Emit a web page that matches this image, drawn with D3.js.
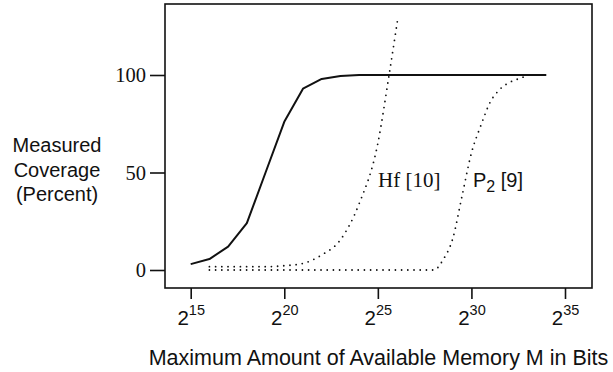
<!DOCTYPE html>
<html>
<head>
<meta charset="utf-8">
<script src="https://cdn.jsdelivr.net/npm/d3@7"></script>
<style>
	body { margin: 0; background: #fff; }
	svg { display: block; }
</style>
</head>
<body>
<div id="chart"></div>
<script>
// x values are exponents of 2 (memory M = 2^x bits), y values are percent coverage
const xTicks = [15, 20, 25, 30, 35];
const yTicks = [0, 50, 100];

const measuredX = [15, 16, 17, 18, 19, 20, 21, 22, 23, 24, 26, 28, 30, 32, 34];
const measuredY = [3, 5.6, 12, 24, 50, 76, 93, 98, 99.5, 100, 100, 100, 100, 100, 100];

const hfX = [16, 17, 18, 19, 20, 21, 22, 23, 24, 25, 25.6, 26.05];
const hfY = [1.7, 1.7, 1.7, 1.7, 2.2, 3.4, 7.7, 15.5, 34, 65, 100, 128];

const p2X = [16, 20, 24, 28, 28.5, 29, 29.5, 30, 30.5, 31, 31.5, 32, 32.5, 33];
const p2Y = [0, 0, 0, 0, 5.5, 16, 38, 60, 74, 86, 92.5, 96, 98, 99.7];

const width = 613;
const height = 372;
const frame = {left: 165, top: 4, right: 592, bottom: 288};

const svg = d3.select('#chart').append('svg')
	.attr('width', width)
	.attr('height', height);

const x = d3.scaleLinear().domain([15, 35]).range([190.7, 565]);
const y = d3.scaleLinear().domain([0, 100]).range([270, 75]);

const sans = '"Liberation Sans", Arial, Helvetica, sans-serif';
const serif = '"Liberation Serif", "Times New Roman", Times, serif';
const ink = '#111';

// plot frame
svg.append('rect')
	.attr('x', frame.left)
	.attr('y', frame.top)
	.attr('width', frame.right - frame.left)
	.attr('height', frame.bottom - frame.top)
	.attr('fill', 'none')
	.attr('stroke', ink)
	.attr('stroke-width', 1.6);

// x axis: ticks hang below the frame
const xAxis = svg.append('g')
	.attr('transform', 'translate(0,' + frame.bottom + ')')
	.call(d3.axisBottom(x).tickValues(xTicks).tickSize(11).tickFormat(''));
xAxis.select('.domain').remove();
xAxis.selectAll('.tick line').attr('stroke', ink).attr('stroke-width', 1.6);

xAxis.selectAll('.tick').append('text')
	.attr('y', 37)
	.attr('fill', ink)
	.attr('text-anchor', 'middle')
	.style('font-family', sans)
	.each(function (d) {
		const t = d3.select(this);
		t.append('tspan').attr('font-size', 20.5).text('2');
		t.append('tspan').attr('font-size', 14.5).attr('dy', -10).text(d);
	});

// y axis: ticks stick out to the left
const yAxis = svg.append('g')
	.attr('transform', 'translate(' + frame.left + ',0)')
	.call(d3.axisLeft(y).tickValues(yTicks).tickSize(15).tickPadding(4));
yAxis.select('.domain').remove();
yAxis.selectAll('.tick line').attr('stroke', ink).attr('stroke-width', 1.6);
yAxis.selectAll('.tick text')
	.attr('fill', ink)
	.attr('dy', '0.32em')
	.style('font-family', serif)
	.style('font-size', '20.5px');

// curves
const toPoints = (xs, ys) => xs.map((v, i) => [v, ys[i]]);

const solidLine = d3.line()
	.x(d => x(d[0]))
	.y(d => y(d[1]));

const smoothLine = d3.line()
	.x(d => x(d[0]))
	.y(d => y(d[1]))
	.curve(d3.curveMonotoneX);

svg.append('path')
	.datum(toPoints(measuredX, measuredY))
	.attr('d', solidLine)
	.attr('fill', 'none')
	.attr('stroke', ink)
	.attr('stroke-width', 2)
	.attr('stroke-linejoin', 'round');

[toPoints(hfX, hfY), toPoints(p2X, p2Y)].forEach(pts => {
	svg.append('path')
		.datum(pts)
		.attr('d', smoothLine)
		.attr('fill', 'none')
		.attr('stroke', ink)
		.attr('stroke-width', 1.8)
		.attr('stroke-linecap', 'round')
		.attr('stroke-dasharray', '0,6.2');
});

// curve labels
svg.append('text')
	.attr('x', 378)
	.attr('y', 187)
	.attr('fill', ink)
	.style('font-family', serif)
	.style('font-size', '21px')
	.text('Hf [10]');

const p2 = svg.append('text')
	.attr('x', 473)
	.attr('y', 187)
	.attr('fill', ink)
	.style('font-family', sans)
	.style('font-size', '20px');
p2.append('tspan').text('P');
p2.append('tspan').attr('font-size', 16).attr('dy', 5).text('2');
p2.append('tspan').attr('dy', -5).text(' [9]');

// axis titles
svg.append('text')
	.attr('x', 378.5)
	.attr('y', 365)
	.attr('fill', ink)
	.attr('text-anchor', 'middle')
	.style('font-family', sans)
	.style('font-size', '21.5px')
	.text('Maximum Amount of Available Memory M in Bits');

const yTitle = svg.append('text')
	.attr('fill', ink)
	.attr('text-anchor', 'middle')
	.style('font-family', sans)
	.style('font-size', '20px');
['Measured', 'Coverage', '(Percent)'].forEach((s, i) => {
	yTitle.append('tspan')
		.attr('x', 57)
		.attr('y', 152 + i * 24.5)
		.text(s);
});
</script>
</body>
</html>
